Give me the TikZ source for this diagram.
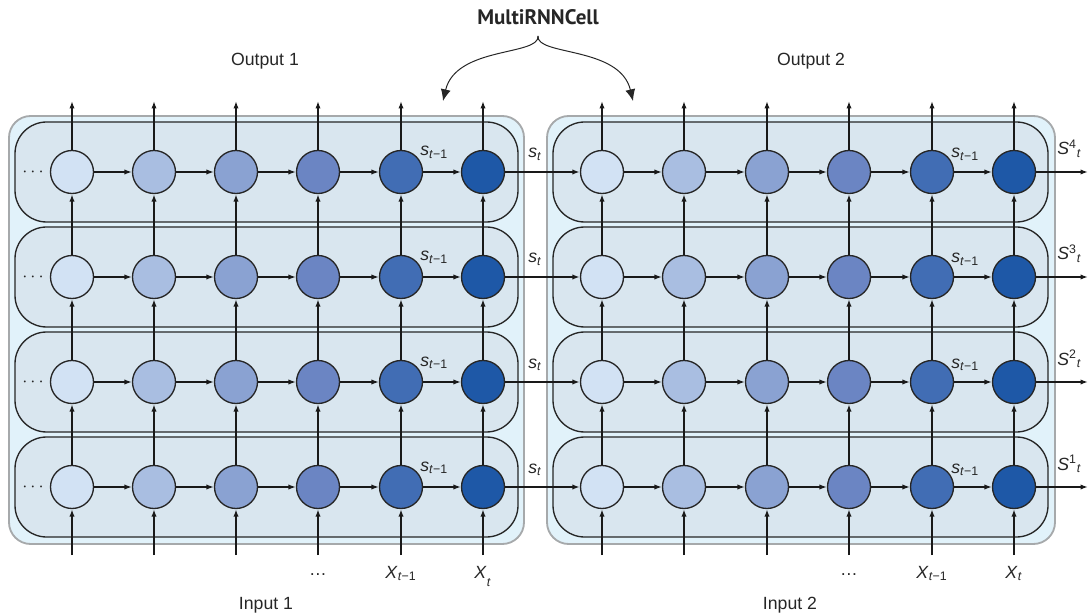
\documentclass[tikz,border=0pt]{standalone}
\usepackage{fontspec}
\setmainfont{Liberation Sans}
\newfontfamily\headfont{PT Sans}
\usetikzlibrary{arrows.meta}

\definecolor{cellA}{HTML}{D2E2F4}
\definecolor{cellB}{HTML}{A9BEE1}
\definecolor{cellC}{HTML}{8AA2D2}
\definecolor{cellD}{HTML}{6B85C3}
\definecolor{cellE}{HTML}{416DB4}
\definecolor{cellF}{HTML}{1E58A7}
\definecolor{layerfill}{HTML}{D9E6EF}
\definecolor{stackfill}{HTML}{E1F2FA}
\definecolor{stackdraw}{HTML}{A6A9AB}

\tikzset{
  cell/.style={circle,draw=black!85,line width=0.8pt,minimum size=25.8pt,inner sep=0pt},
  layer/.style={draw=black!85,line width=0.8pt,fill=layerfill,rounded corners=19pt},
  stack/.style={draw=stackdraw,line width=1.1pt,fill=stackfill,rounded corners=13pt},
  flow/.style={-{Latex[length=4.5pt,width=3.2pt]},line width=1.2pt,black!90},
  hop/.style={-{Latex[length=4.5pt,width=3.2pt]},line width=0.8pt,black!90},
  link/.style={-{Latex[length=4.5pt,width=3.2pt]},line width=1.2pt,black!90},
  curl/.style={-{Latex[length=7pt,width=6pt]},line width=0.6pt,black!85},
  lbl/.style={font=\fontsize{10.6}{12}\selectfont,text=black!85,inner sep=0pt}
}

\begin{document}
\begin{tikzpicture}[x=0.6pt,y=-0.6pt]
    \useasboundingbox (0,0) rectangle (1091,616);

    % Stacked cells
    \draw[stack] (9,116) rectangle (524,544);
    \draw[stack] (547,116) rectangle (1055,544);

    % Layers
    \foreach \r/\yc in {1/487,2/382,3/277,4/172} {
        \draw[layer] (15,\yc-50) rectangle (518,\yc+50);
        \draw[layer] (553,\yc-50) rectangle (1048,\yc+50);
    }

    % Vertical flow (behind the cells)
    \foreach \c/\xl/\xr in {1/72/602,2/154/684,3/236/767,4/318/849,5/401/932,6/483/1014} {
        \coordinate (L-in-\c) at (\xl,555);
        \coordinate (L-out-\c) at (\xl,101);
        \coordinate (R-in-\c) at (\xr,555);
        \coordinate (R-out-\c) at (\xr,101);
    }

    % Cells
    \foreach \r/\yc in {1/487,2/382,3/277,4/172} {
        \foreach \c/\xl/\xr/\col in {1/72/602/cellA,2/154/684/cellB,3/236/767/cellC,
                                     4/318/849/cellD,5/401/932/cellE,6/483/1014/cellF} {
            \node[cell,fill=\col] (L-\r-\c) at (\xl,\yc) {};
            \node[cell,fill=\col] (R-\r-\c) at (\xr,\yc) {};
        }
        \coordinate (R-end-\r) at (1088,\yc);
        \node[lbl] (L-dots-\r) at (33,\yc) {$\cdots$};
    }

    % Arrows up through the layers
    \foreach \c in {1,...,6} {
        \foreach \s in {L,R} {
            \draw[flow] (\s-in-\c) -- (\s-1-\c);
            \draw[flow] (\s-1-\c) -- (\s-2-\c);
            \draw[flow] (\s-2-\c) -- (\s-3-\c);
            \draw[flow] (\s-3-\c) -- (\s-4-\c);
            \draw[flow] (\s-4-\c) -- (\s-out-\c);
        }
    }

    % Arrows along the time steps
    \foreach \r/\yc in {1/487,2/382,3/277,4/172} {
        \foreach \c [evaluate=\c as \cc using int(\c+1)] in {1,...,5} {
            \draw[hop] (L-\r-\c) -- (L-\r-\cc);
            \draw[hop] (R-\r-\c) -- (R-\r-\cc);
        }
        \draw[link] (L-\r-6) -- (R-\r-1);
        \draw[link] (R-\r-6) -- (R-end-\r);

        % state labels
        \node[lbl,anchor=base west] (L-prev-\r) at (420,\yc-16) {\textit{s}\textsubscript{\textit{t}−1}};
        \node[lbl,anchor=base west] (L-st-\r) at (528,\yc-14) {\textit{s}\textsubscript{\textit{t}}};
        \node[lbl,anchor=base west] (R-prev-\r) at (951,\yc-14) {\textit{s}\textsubscript{\textit{t}−1}};
    }
    \node[lbl,anchor=base west] (S-4) at (1057,155) {\textit{S}\textsuperscript{4}\textsubscript{\textit{t}}};
    \node[lbl,anchor=base west] (S-3) at (1057,260) {\textit{S}\textsuperscript{3}\textsubscript{\textit{t}}};
    \node[lbl,anchor=base west] (S-2) at (1057,365) {\textit{S}\textsuperscript{2}\textsubscript{\textit{t}}};
    \node[lbl,anchor=base west] (S-1) at (1057,470) {\textit{S}\textsuperscript{1}\textsubscript{\textit{t}}};

    % Inputs
    \node[lbl,anchor=base] (L-xdots) at (318,575) {…};
    \node[lbl,anchor=base] (L-xprev) at (401,578) {\textit{X}\textsubscript{\textit{t}−1}};
    \node[lbl,anchor=base] (L-xt) at (483,578) {\textit{X}\textsubscript{\raisebox{-0.9ex}{\textit{t}}}};
    \node[lbl,anchor=base] (R-xdots) at (849,575) {…};
    \node[lbl,anchor=base] (R-xprev) at (932,578) {\textit{X}\textsubscript{\textit{t}−1}};
    \node[lbl,anchor=base] (R-xt) at (1014,578) {\textit{X}\textsubscript{\textit{t}}};

    % Titles
    \node[lbl,anchor=base] (in1) at (266,609) {Input 1};
    \node[lbl,anchor=base] (in2) at (790,609) {Input 2};
    \node[lbl,anchor=base] (out1) at (265,66) {Output 1};
    \node[lbl,anchor=base] (out2) at (811,66) {Output 2};
    \node[lbl,anchor=base,font=\headfont\bfseries\fontsize{12.6}{14}\selectfont] (multi) at (538,25) {MultiRNNCell};

    % Brace arrows
    \coordinate (brace) at (538,36);
    \coordinate (tipL) at (443,101);
    \coordinate (tipR) at (633,101);
    \draw[curl] (brace) .. controls (540,56) and (456,46) .. (tipL);
    \draw[curl] (brace) .. controls (536,56) and (620,46) .. (tipR);
\end{tikzpicture}
\end{document}
